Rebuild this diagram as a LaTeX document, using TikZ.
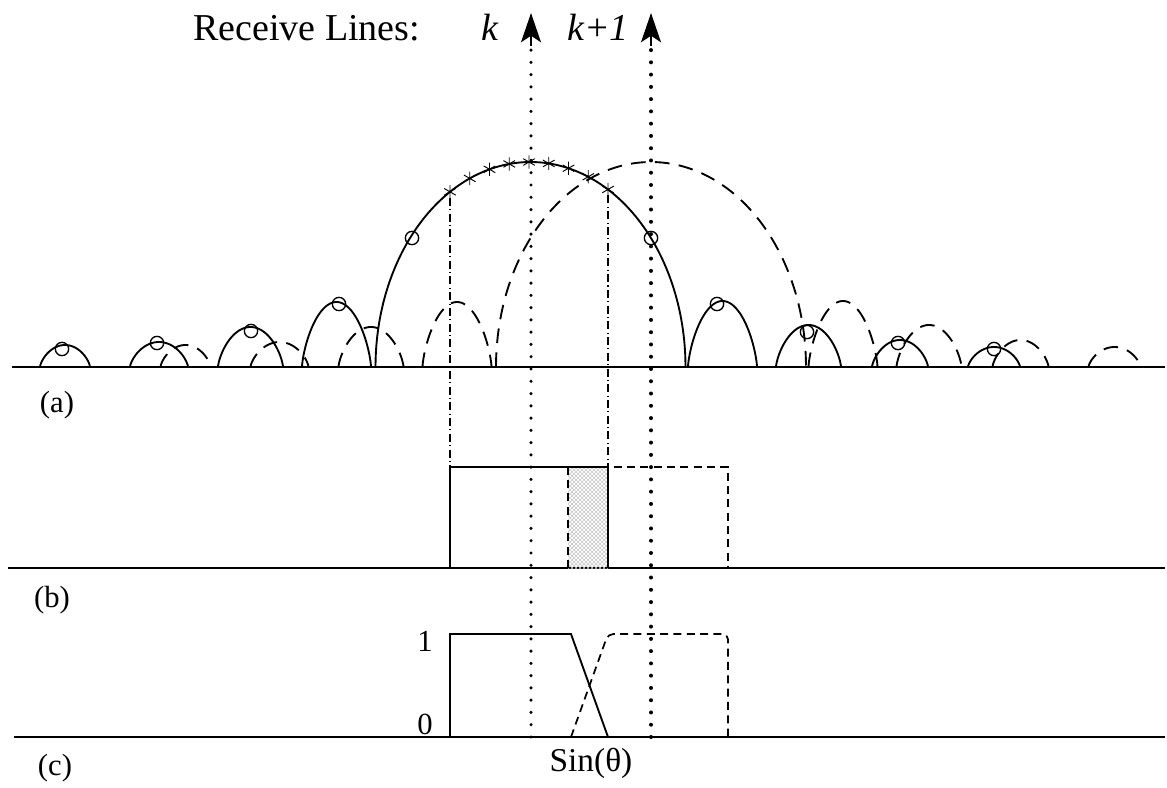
\documentclass[tikz,border=0pt]{standalone}
\usepackage{fontspec}
\setmainfont{Liberation Serif}
\usetikzlibrary{arrows.meta,patterns,plotmarks}
% #1 style, #2 centre, #3 half width, #4 height, #5 shape exponent
\newcommand\mylobe[5]{\draw[#1] plot[domain=180:0,samples=70,smooth] ({#2+#3*cos(\x)},{367-#4*(sin(\x))^(#5)});}
\begin{document}
\begin{tikzpicture}[x=0.75pt,y=-0.75pt,
  axisline/.style={line width=1.7pt},
  curve/.style={line width=1.4pt},
  dcurve/.style={line width=1.4pt, dash pattern=on 11pt off 7pt},
  boxline/.style={line width=1.4pt},
  dboxline/.style={line width=1.3pt, dash pattern=on 6pt off 4pt},
  recvk/.style={line width=2.6pt, line cap=round, dash pattern=on 0pt off 9.2pt},
  recvkk/.style={line width=3pt, line cap=round, dash pattern=on 0pt off 9.2pt},
  tip/.style={-{Stealth[length=22pt,width=15pt,inset=5pt]}, line width=1.2pt},
  dashdot/.style={line width=1pt, dash pattern=on 6pt off 2.5pt on 0.8pt off 2.5pt},
  omark/.style={circle, draw, inner sep=0pt, minimum size=10pt, line width=1pt},
  lab/.style={font=\fontsize{23}{26}\selectfont, inner sep=0pt},
  hdr/.style={font=\fontsize{28.5}{32}\selectfont, inner sep=0pt}
]
\useasboundingbox (0,0) rectangle (1167,788);

% axes
\coordinate (aL) at (12,367);  \coordinate (aR) at (1165,367);
\coordinate (bL) at (8,568);   \coordinate (bR) at (1165,568);
\coordinate (cL) at (14,737);  \coordinate (cR) at (1165,737);
\draw[axisline] (aL) -- (aR);
\draw[axisline] (bL) -- (bR);
\draw[axisline] (cL) -- (cR);

% panel labels
\node[lab] (la) at (57,405) {(a)};
\node[lab] (lb) at (52,600) {(b)};
\node[lab] (lc) at (55,768) {(c)};

% header
\node[hdr, anchor=base west] (head) at (193,41) {Receive Lines:};
\node[hdr, anchor=base] (klab) at (490,41) {\itshape k};
\node[hdr, anchor=base west] (kklab) at (567,41) {\itshape k+1};

% solid beam pattern (a)
\mylobe{curve}{65}{25}{22}{1.4}
\mylobe{curve}{159}{29}{25}{1.4}
\mylobe{curve}{250.5}{32.5}{40}{1.4}
\mylobe{curve}{336.5}{34.5}{65}{1.4}
\mylobe{curve}{530.5}{155}{205}{1}
\mylobe{curve}{722.5}{34.5}{66}{1.4}
\mylobe{curve}{808.5}{32.5}{42}{1.4}
\mylobe{curve}{900}{28}{27}{1.4}
\mylobe{curve}{994}{26}{20}{1.4}

% dashed beam pattern (shifted)
\mylobe{dcurve}{185.5}{25}{22}{1.4}
\mylobe{dcurve}{279.5}{29}{25}{1.4}
\mylobe{dcurve}{371}{32.5}{40}{1.4}
\mylobe{dcurve}{457}{34.5}{65}{1.4}
\mylobe{dcurve}{651}{155}{205}{1}
\mylobe{dcurve}{843}{34.5}{66}{1.4}
\mylobe{dcurve}{929}{32.5}{42}{1.4}
\mylobe{dcurve}{1020.5}{28}{27}{1.4}
\mylobe{dcurve}{1114.5}{26}{20}{1.4}

% circle markers
\node[omark] (o1) at (62,349) {};
\node[omark] (o2) at (157,343) {};
\node[omark] (o3) at (251,331) {};
\node[omark] (o4) at (339,304) {};
\node[omark] (o5) at (412,238) {};
\node[omark] (o6) at (651,238) {};
\node[omark] (o7) at (717,304) {};
\node[omark] (o8) at (807,332) {};
\node[omark] (o9) at (898,343) {};
\node[omark] (o10) at (994,349) {};

% star markers
\foreach \i in {0,...,8}{
  \pgfmathsetmacro\sx{450+19.75*\i}
  \pgfmathsetmacro\sy{367-205*sqrt(max(0,1-((\sx-530.5)/155)^2))}
  \coordinate (s\i) at (\sx,\sy);
  \draw[line width=0.7pt] plot[only marks, mark=asterisk, mark size=5pt] coordinates {(\sx,\sy)};
}

% (b) rectangles
\coordinate (b1a) at (450,568); \coordinate (b1b) at (450,467);
\coordinate (b1c) at (608,467); \coordinate (b1d) at (608,568);
\coordinate (b2a) at (568,568); \coordinate (b2b) at (568,467);
\coordinate (b2c) at (728,467); \coordinate (b2d) at (728,568);
\fill[pattern=crosshatch, pattern color=gray!45] (b2b) rectangle (b1d);
\draw[boxline] (b1a) -- (b1b) -- (b1c) -- (b1d);
\draw[dboxline] (b2a) -- (b2b) -- (b2c) -- (b2d);

% dash-dot projections
\draw[dashdot] (s0) ++(0,6) -- (b1b);
\draw[dashdot] (s8) ++(0,6) -- (b1c);

% (c) weights
\coordinate (c1a) at (450,737); \coordinate (c1b) at (450,634);
\coordinate (c1c) at (571,634); \coordinate (c1d) at (608,737);
\coordinate (c2a) at (571,737); \coordinate (c2b) at (608,634);
\coordinate (c2c) at (728,634); \coordinate (c2d) at (728,737);
\draw[boxline] (c1a) -- (c1b) -- (c1c) -- (c1d);
\draw[dboxline, rounded corners=4pt] (c2a) -- (c2b) -- (c2c) -- (c2d);
\node[lab] (one) at (425,641) {1};
\node[lab] (zero) at (425,724) {0};
\node[lab, font=\fontsize{25}{28}\selectfont] (sin) at (591,763) {Sin(θ)};

% receive lines
\coordinate (kbot) at (531,737); \coordinate (kmid) at (531,46); \coordinate (ktop) at (531,13);
\coordinate (kkbot) at (651,737); \coordinate (kkmid) at (651,46); \coordinate (kktop) at (651,13);
\draw[recvk] (kbot) -- (kmid);
\draw[recvkk] (kkbot) -- (kkmid);
\draw[tip] (kmid) -- (ktop);
\draw[tip] (kkmid) -- (kktop);
\end{tikzpicture}
\end{document}
